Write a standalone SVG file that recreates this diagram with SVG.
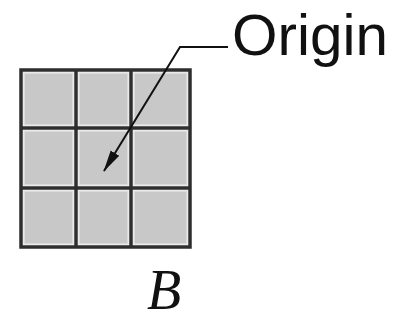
<svg xmlns="http://www.w3.org/2000/svg" width="397" height="324" viewBox="0 0 397 324">
<style>
.cell{fill:#c8c8c8;stroke:#e2e2e2;stroke-width:1.5}
.grid{stroke:#2e2e2e;stroke-width:3.5;fill:none}
.lead{stroke:#111;stroke-width:2;fill:none}
</style>
<defs>
<marker id="ah" viewBox="0 0 22 12" refX="21" refY="6" markerWidth="22" markerHeight="12" orient="auto" markerUnits="userSpaceOnUse">
<path d="M0,1 L22,6 L0,11 z" fill="#111"/>
</marker>
</defs>
<g id="grid-B">
<rect class="cell" x="24" y="73" width="49" height="52"/>
<rect class="cell" x="79" y="73" width="49" height="52"/>
<rect class="cell" x="134" y="73" width="53" height="52"/>
<rect class="cell" x="24" y="131" width="49" height="54"/>
<rect class="cell" x="79" y="131" width="49" height="54"/>
<rect class="cell" x="134" y="131" width="53" height="54"/>
<rect class="cell" x="24" y="191" width="49" height="53"/>
<rect class="cell" x="79" y="191" width="49" height="53"/>
<rect class="cell" x="134" y="191" width="53" height="53"/>
<rect class="grid" x="21" y="70" width="169" height="177"/>
<line class="grid" x1="76" y1="70" x2="76" y2="247"/>
<line class="grid" x1="131" y1="70" x2="131" y2="247"/>
<line class="grid" x1="21" y1="128" x2="190" y2="128"/>
<line class="grid" x1="21" y1="188" x2="190" y2="188"/>
</g>
<g id="connectors">
<path class="lead" d="M228,47 L180,47 L104,171" marker-end="url(#ah)"/>
</g>
<g id="label-origin">
<text x="232" y="55" font-family="Liberation Sans, Arial, sans-serif" font-size="58" fill="#111" textLength="156" lengthAdjust="spacingAndGlyphs">Origin</text>
</g>
<g id="label-B">
<text x="147" y="309" font-family="Liberation Serif, Times New Roman, serif" font-style="italic" font-size="56" fill="#111">B</text>
</g>
</svg>
